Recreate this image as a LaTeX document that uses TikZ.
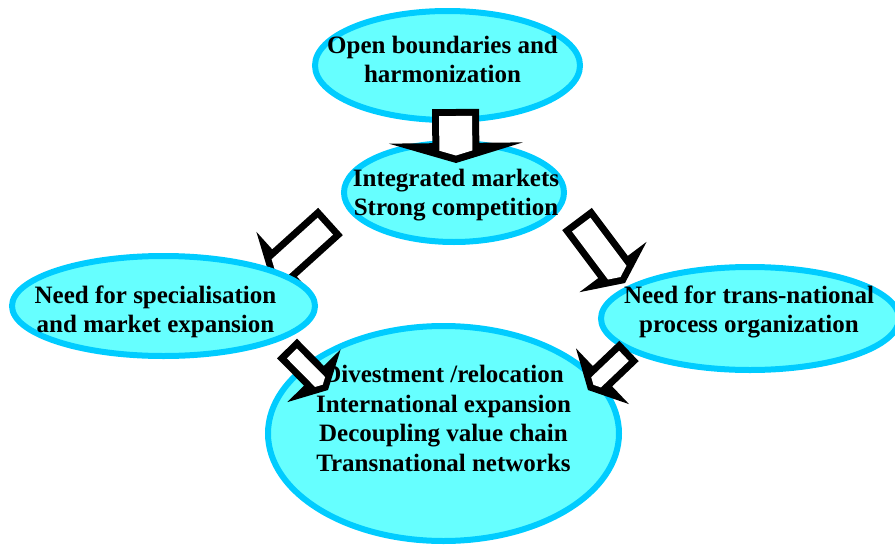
\documentclass[tikz,border=0pt]{standalone}
\usepackage{fontspec}
\setmainfont{Liberation Serif}
\usetikzlibrary{shapes.geometric,calc}
\definecolor{bubblefill}{HTML}{66FFFF}
\definecolor{bubbleline}{HTML}{00CCFF}
\tikzset{
  bubble/.style={ellipse,draw=bubbleline,fill=bubblefill,line width=6pt,inner sep=0pt},
  bubbletext/.style={font=\bfseries\fontsize{25}{29.5}\selectfont,align=center,inner sep=0pt}
}
\newcommand\blockarrow[4]{%
  \pgfmathsetmacro\bainner{#3-7}%
  \pgfmathsetmacro\baside{7.5+20*(#3-7)/#4}%
  \coordinate (hb) at ($(#2)!20pt!(#1)$);
  \coordinate (ti) at ($(#1)!7pt!(#2)$);
  \coordinate (si) at ($(#2)!\baside pt!(#1)$);
  \fill[black] ($(#1)!#3pt!90:(#2)$) -- ($(hb)!#3pt!90:(#2)$) -- ($(hb)!#4pt!90:(#2)$) -- (#2)
    -- ($(hb)!#4pt!-90:(#2)$) -- ($(hb)!#3pt!-90:(#2)$) -- ($(#1)!#3pt!-90:(#2)$) -- cycle;
  \fill[white] ($(ti)!\bainner pt!90:(#2)$) -- ($(si)!\bainner pt!90:(#2)$) -- ($(#2)!7.5pt!(#1)$)
    -- ($(si)!\bainner pt!-90:(#2)$) -- ($(ti)!\bainner pt!-90:(#2)$) -- cycle;
}
\begin{document}
\begin{tikzpicture}[x=1pt,y=-1pt]
  \useasboundingbox (0,0) rectangle (895,544);
  \node[bubble,minimum width=265pt,minimum height=109pt,
    label={[bubbletext,xshift=-5pt,yshift=6pt]center:Open boundaries and\\harmonization}] (open) at (447.5,65.5) {};
  \node[bubble,minimum width=220pt,minimum height=99pt,
    label={[bubbletext,xshift=2pt,yshift=-2.5pt]center:Integrated markets\\Strong competition}] (integ) at (454,192.5) {};
  \coordinate (a1t) at (455.5,109);
  \coordinate (a1h) at (456,163);
  \blockarrow{a1t}{a1h}{23.5}{67}
  \coordinate (a2t) at (330.5,221.5);
  \coordinate (a2h) at (269.7,276.4);
  \blockarrow{a2t}{a2h}{18.4}{42}
  \coordinate (a3t) at (577,219);
  \coordinate (a3h) at (625,283);
  \blockarrow{a3t}{a3h}{18.5}{42}
  \node[bubble,minimum width=303pt,minimum height=100pt,
    label={[bubbletext,xshift=-8pt,yshift=-6pt]center:Need for specialisation\\and market expansion}] (special) at (163.5,306) {};
  \node[bubble,minimum width=298pt,minimum height=103pt,
    label={[bubbletext,xshift=-1pt,yshift=6.5pt]center:Need for trans-national\\process organization}] (transnat) at (750,318.5) {};
  \node[bubble,minimum width=351pt,minimum height=215pt,
    label={[bubbletext,yshift=15pt]center:Divestment /relocation\\International expansion\\Decoupling value chain\\Transnational networks}] (divest) at (443.5,433.5) {};
  \coordinate (a4t) at (287,348.5);
  \coordinate (a4h) at (328,390);
  \blockarrow{a4t}{a4h}{14}{37.5}
  \coordinate (a5t) at (629,351);
  \coordinate (a5h) at (588,390);
  \blockarrow{a5t}{a5h}{14}{38.5}
\end{tikzpicture}
\end{document}
